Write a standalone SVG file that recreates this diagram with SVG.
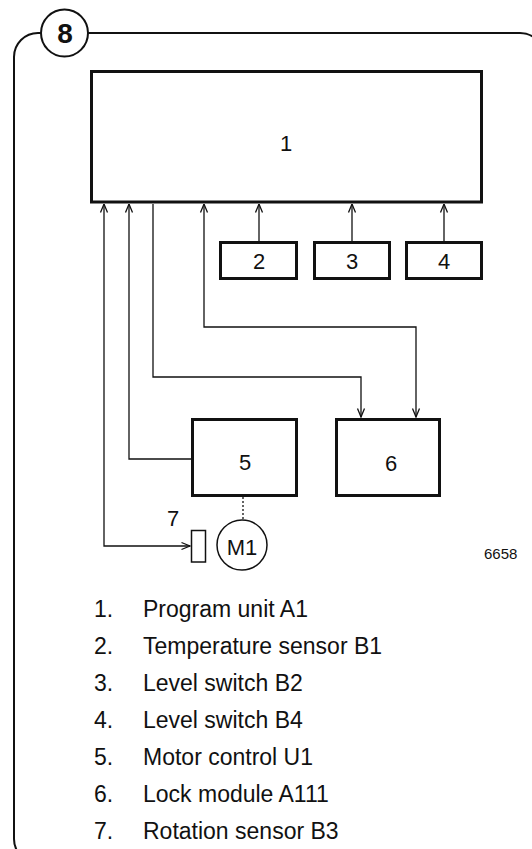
<svg xmlns="http://www.w3.org/2000/svg" width="532" height="849" viewBox="0 0 532 849">
<style>
text{font-family:"Liberation Sans",Arial,sans-serif;fill:#111;}
.lbl{font-size:22px;text-anchor:middle;}
.leg{font-size:23px;}
.box{fill:#fff;stroke:#111;stroke-width:3;}
.con{fill:none;stroke:#111;stroke-width:1.3;}
</style>
<defs>
<marker id="ah" viewBox="0 0 10 10" refX="9.5" refY="5" markerWidth="10" markerHeight="10" markerUnits="userSpaceOnUse" orient="auto-start-reverse">
<path d="M1,1.5 L9.5,5 L1,8.5" fill="none" stroke="#111" stroke-width="1.3"/>
</marker>
</defs>
<g id="frame">
<rect x="14" y="33" width="530" height="830" rx="24" fill="none" stroke="#111" stroke-width="2"/>
<circle cx="64.5" cy="33" r="23.5" fill="#fff" stroke="#111" stroke-width="2"/>
<text x="65" y="43" font-size="28" font-weight="bold" text-anchor="middle">8</text>
</g>
<g id="connectors">
<path class="con" d="M259,241 V204" marker-end="url(#ah)"/>
<path class="con" d="M352,241 V204" marker-end="url(#ah)"/>
<path class="con" d="M444,241 V204" marker-end="url(#ah)"/>
<path class="con" d="M204,204 V327 H416 V417" marker-start="url(#ah)" marker-end="url(#ah)"/>
<path class="con" d="M153,204 V377 H361 V417" marker-end="url(#ah)"/>
<path class="con" d="M129,204 V459 H191" marker-start="url(#ah)"/>
<path class="con" d="M104,204 V546 H190" marker-start="url(#ah)" marker-end="url(#ah)"/>
<path class="con" d="M243,497 V519" stroke-dasharray="2,2"/>
</g>
<g id="node1"><rect class="box" x="91.5" y="71.5" width="390" height="130.5"/><text class="lbl" x="286" y="151">1</text></g>
<g id="node2"><rect class="box" x="220.5" y="242.5" width="76" height="36"/><text class="lbl" x="259" y="269">2</text></g>
<g id="node3"><rect class="box" x="314.5" y="242.5" width="75" height="36"/><text class="lbl" x="352" y="269">3</text></g>
<g id="node4"><rect class="box" x="406.5" y="242.5" width="75" height="36"/><text class="lbl" x="444" y="269">4</text></g>
<g id="node5"><rect class="box" x="192.5" y="419.5" width="104" height="76"/><text class="lbl" x="245" y="470">5</text></g>
<g id="node6"><rect class="box" x="336.5" y="419.5" width="103" height="76"/><text class="lbl" x="391" y="471">6</text></g>
<g id="node7"><rect x="191.5" y="530.5" width="14" height="31.5" fill="#fff" stroke="#111" stroke-width="1.5"/><text class="lbl" x="173" y="526">7</text></g>
<g id="nodeM1"><circle cx="242" cy="545" r="25" fill="#fff" stroke="#111" stroke-width="1.5"/><text class="lbl" x="242" y="555">M1</text></g>
<text x="484" y="559" font-size="15">6658</text>
<g id="legend">
<text class="leg" x="94" y="617">1.</text><text class="leg" x="143" y="617">Program unit A1</text>
<text class="leg" x="94" y="654">2.</text><text class="leg" x="143" y="654">Temperature sensor B1</text>
<text class="leg" x="94" y="691">3.</text><text class="leg" x="143" y="691">Level switch B2</text>
<text class="leg" x="94" y="728">4.</text><text class="leg" x="143" y="728">Level switch B4</text>
<text class="leg" x="94" y="765">5.</text><text class="leg" x="143" y="765">Motor control U1</text>
<text class="leg" x="94" y="802">6.</text><text class="leg" x="143" y="802">Lock module A111</text>
<text class="leg" x="94" y="839">7.</text><text class="leg" x="143" y="839">Rotation sensor B3</text>
</g>
</svg>
